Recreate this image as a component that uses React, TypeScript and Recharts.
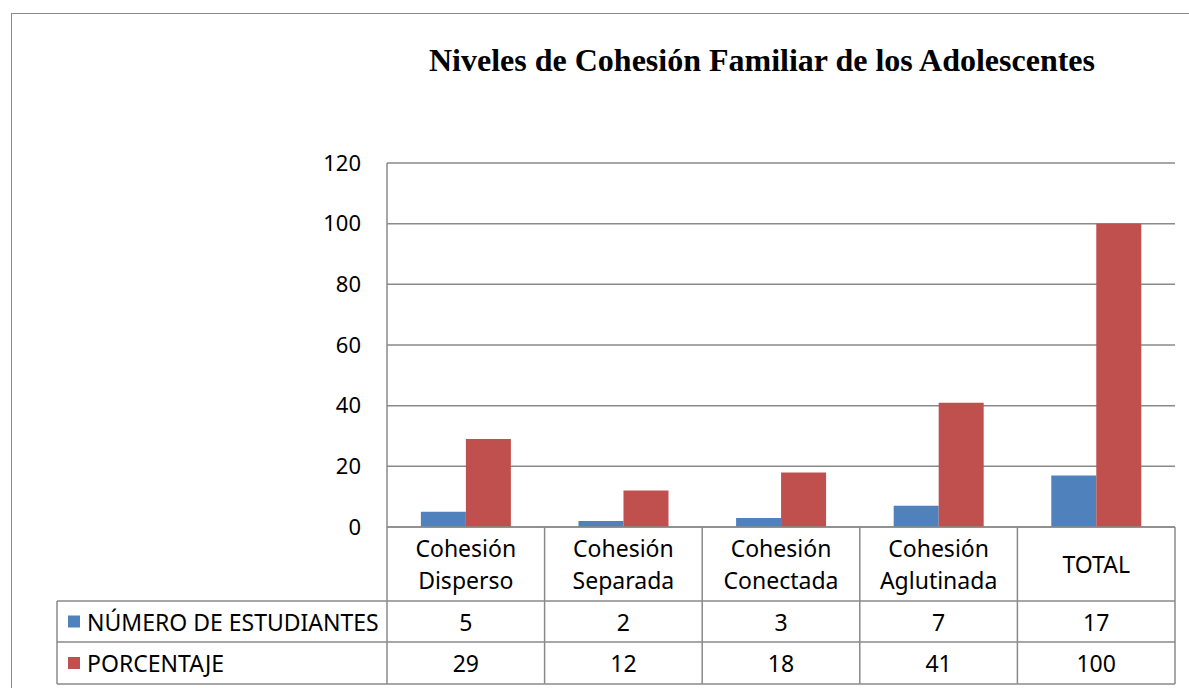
import React from 'react';
import { BarChart, Bar, XAxis, YAxis, CartesianGrid } from 'recharts';

const categories = ['Cohesión Disperso', 'Cohesión Separada', 'Cohesión Conectada', 'Cohesión Aglutinada', 'TOTAL'];
const estudiantes = [5, 2, 3, 7, 17];
const porcentaje = [29, 12, 18, 41, 100];
const yTicks = [0, 20, 40, 60, 80, 100, 120];

const seriesNames = ['NÚMERO DE ESTUDIANTES', 'PORCENTAJE'];
const seriesColors = ['#4F81BD', '#C0504D'];

const data = categories.map((c, i) => ({
  name: c,
  estudiantes: estudiantes[i],
  porcentaje: porcentaje[i],
}));

// layout
const W = 1189;
const H = 688;
const M = { top: 163, right: 14, left: 327, bottom: 4 };
const Y_AXIS_W = 60;
const X_AXIS_H = 157;
const PLOT_LEFT = M.left + Y_AXIS_W;
const PLOT_W = W - PLOT_LEFT - M.right;
const AXIS_Y = H - M.bottom - X_AXIS_H;
const ROW1 = AXIS_Y + 74;
const ROW2 = ROW1 + 41;
const ROW3 = ROW2 + 42;
const TABLE_LEFT = 57;
const LINE = '#8a8a8a';
const FONT = '"Noto Sans", sans-serif';

const TableTick = (props: any) => {
  const { x, payload } = props;
  const i = payload.index;
  const w = PLOT_W / categories.length;
  const left = x - w / 2;
  const right = x + w / 2;
  const words = String(payload.value).split(' ');
  const labelMid = (AXIS_Y + ROW1) / 2;
  const lineH = 32;
  return (
    <g fontFamily={FONT} fontSize={23} fill="#000">
      {i === 0 && (
        <g>
          <line x1={left} y1={AXIS_Y} x2={left} y2={ROW3} stroke={LINE} strokeWidth={1.5} />
          <line x1={TABLE_LEFT} y1={ROW1} x2={left} y2={ROW1} stroke={LINE} strokeWidth={1.5} />
          <line x1={TABLE_LEFT} y1={ROW2} x2={left} y2={ROW2} stroke={LINE} strokeWidth={1.5} />
          <line x1={TABLE_LEFT} y1={ROW3} x2={left} y2={ROW3} stroke={LINE} strokeWidth={1.5} />
          <line x1={TABLE_LEFT} y1={ROW1} x2={TABLE_LEFT} y2={ROW3} stroke={LINE} strokeWidth={1.5} />
          {seriesNames.map((s, k) => {
            const top = k === 0 ? ROW1 : ROW2;
            const bottom = k === 0 ? ROW2 : ROW3;
            const mid = (top + bottom) / 2;
            return (
              <g key={s}>
                <rect x={68} y={mid - 6} width={12} height={12} fill={seriesColors[k]} />
                <text x={87} y={mid} dominantBaseline="central" fill="#000">{s}</text>
              </g>
            );
          })}
        </g>
      )}
      <line x1={right} y1={AXIS_Y} x2={right} y2={ROW3} stroke={LINE} strokeWidth={1.5} />
      <line x1={left} y1={ROW1} x2={right} y2={ROW1} stroke={LINE} strokeWidth={1.5} />
      <line x1={left} y1={ROW2} x2={right} y2={ROW2} stroke={LINE} strokeWidth={1.5} />
      <line x1={left} y1={ROW3} x2={right} y2={ROW3} stroke={LINE} strokeWidth={1.5} />
      {words.map((wd, k) => (
        <text
          key={k}
          x={x}
          y={labelMid + (k - (words.length - 1) / 2) * lineH}
          textAnchor="middle"
          dominantBaseline="central"
          fill="#000"
        >
          {wd}
        </text>
      ))}
      <text x={x} y={(ROW1 + ROW2) / 2} textAnchor="middle" dominantBaseline="central" fill="#000">
        {estudiantes[i]}
      </text>
      <text x={x} y={(ROW2 + ROW3) / 2} textAnchor="middle" dominantBaseline="central" fill="#000">
        {porcentaje[i]}
      </text>
    </g>
  );
};

export default function App() {
  return (
    <div style={{ position: 'absolute', left: 0, top: 0, width: W, height: H, overflow: 'hidden', background: '#fff' }}>
      <div
        style={{
          position: 'absolute',
          left: 11,
          top: 13,
          width: 1220,
          height: 720,
          border: '1.5px solid #8a8a8a',
        }}
      />
      <div
        style={{
          position: 'absolute',
          left: 0,
          top: 42,
          width: W,
          paddingLeft: 335,
          boxSizing: 'border-box',
          textAlign: 'center',
          fontFamily: '"Liberation Serif", "Times New Roman", serif',
          fontWeight: 'bold',
          fontSize: 32,
          color: '#000',
        }}
      >
        Niveles de Cohesión Familiar de los Adolescentes
      </div>
      <div style={{ position: 'absolute', left: 0, top: 0 }}>
        <BarChart width={W} height={H} data={data} margin={M} barCategoryGap="21.5%" barGap={0}>
          <CartesianGrid vertical={false} stroke={LINE} strokeWidth={1.5} />
          <XAxis
            dataKey="name"
            height={X_AXIS_H}
            interval={0}
            tickLine={false}
            axisLine={{ stroke: LINE, strokeWidth: 1.5 }}
            tick={<TableTick />}
          />
          <YAxis
            width={Y_AXIS_W}
            domain={[0, 120]}
            ticks={yTicks}
            tickLine={false}
            axisLine={{ stroke: LINE, strokeWidth: 1.5 }}
            tickMargin={20}
            tick={{ fill: '#000', fontSize: 22, fontFamily: FONT }}
          />
          <Bar dataKey="estudiantes" name={seriesNames[0]} fill={seriesColors[0]} isAnimationActive={false} />
          <Bar dataKey="porcentaje" name={seriesNames[1]} fill={seriesColors[1]} isAnimationActive={false} />
        </BarChart>
      </div>
    </div>
  );
}
